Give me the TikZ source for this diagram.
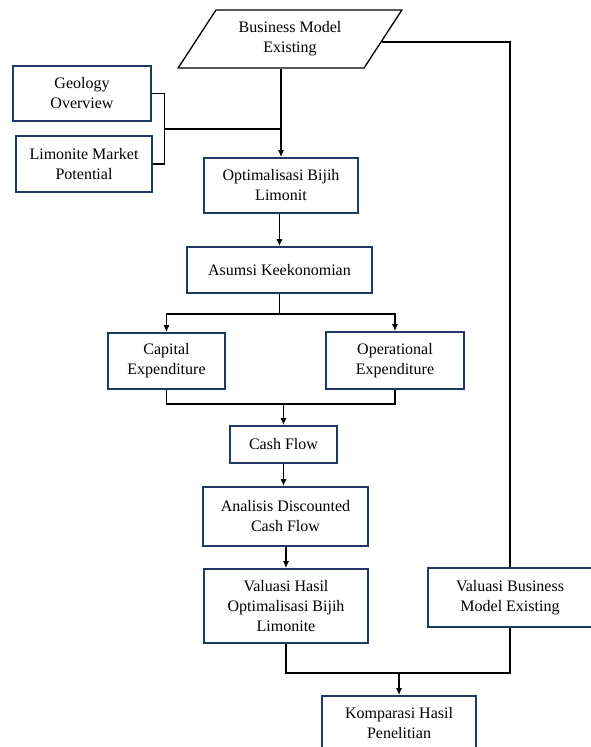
\documentclass[tikz,border=0pt]{standalone}
\usepackage{fontspec}
\setmainfont{Liberation Serif}
\usetikzlibrary{shapes.geometric,arrows.meta,calc}
\definecolor{navy}{RGB}{31,56,100}
\begin{document}
\begin{tikzpicture}[x=1pt,y=-1pt,
  box/.style={draw=navy,line width=1.6pt,rectangle,align=center,inner sep=0pt,
    font=\fontsize{16}{20}\selectfont},
  conn/.style={draw=black,line width=1.5pt},
  arr/.style={conn,-{Latex[length=7pt,width=6pt]}}]
\useasboundingbox (0,0) rectangle (591,747);
\clip (0,0) rectangle (591,747);
% nodes
\node[trapezium,draw=black,line width=1.3pt,trapezium left angle=52.8,trapezium right angle=127.2,
  trapezium stretches=true,minimum width=224pt,minimum height=58pt,inner sep=0pt,align=center,
  font=\fontsize{16}{20}\selectfont] (bm) at (290,39) {Business Model\\Existing};
\node[box,minimum width=138pt,minimum height=55pt] (geo) at (82,93.5) {Geology\\Overview};
\node[box,minimum width=136pt,minimum height=56pt] (lim) at (84,164) {Limonite Market\\Potential};
\node[box,minimum width=154pt,minimum height=55pt] (opt) at (281,185.5) {Optimalisasi Bijih\\Limonit};
\node[box,minimum width=185pt,minimum height=46pt] (asm) at (279.5,270) {Asumsi Keekonomian};
\node[box,minimum width=117pt,minimum height=56pt] (cap) at (166.5,361) {Capital\\Expenditure};
\node[box,minimum width=138pt,minimum height=57pt] (ope) at (395,360.5) {Operational\\Expenditure};
\node[box,minimum width=107pt,minimum height=37pt] (cf) at (283.5,444.5) {Cash Flow};
\node[box,minimum width=165pt,minimum height=59pt] (adcf) at (285.5,516.5) {Analisis Discounted\\Cash Flow};
\node[box,minimum width=164pt,minimum height=74pt] (vh) at (286,606) {Valuasi Hasil\\Optimalisasi Bijih\\Limonite};
\node[box,minimum width=164pt,minimum height=59pt] (vb) at (510,597.5) {Valuasi Business\\Model Existing};
\node[box,minimum width=154pt,minimum height=54pt] (kom) at (399,723) {Komparasi Hasil\\Penelitian};
% coordinates
\coordinate (br) at ($($(geo.east)!0.5!(lim.east)$)+(12,0)$);
\coordinate (bmr) at ($(bm.east)+(-1.5,3)$);
\coordinate (split) at ($(asm.south)+(0,20)$);
\coordinate (joinA) at ($(cap.south)+(0,14)$);
\coordinate (joinB) at ($(vh.south)+(0,29)$);
% connectors
\draw[arr] (opt.north |- bm.south) -- (opt.north);
\draw[conn] (geo.east) -- (geo.east -| br) -- (lim.east -| br) -- (lim.east);
\draw[conn] (br) -- (br -| opt.north);
\draw[conn] (bmr) -- (bmr -| vb.north) -- (vb.north);
\draw[arr] (asm.north |- opt.south) -- (asm.north);
\draw[conn] (asm.south) -- (split);
\draw[arr] (split) -| (cap.north);
\draw[arr] (split) -| (ope.north);
\draw[conn] (cap.south) -- (joinA) -| (ope.south);
\draw[arr] (joinA -| cf.north) -- (cf.north);
\draw[arr] (cf.south) -- (cf.south |- adcf.north);
\draw[arr] (vh.north |- adcf.south) -- (vh.north);
\draw[conn] (vh.south) -- (joinB) -| (vb.south);
\draw[arr] (joinB -| kom.north) -- (kom.north);
\end{tikzpicture}
\end{document}
